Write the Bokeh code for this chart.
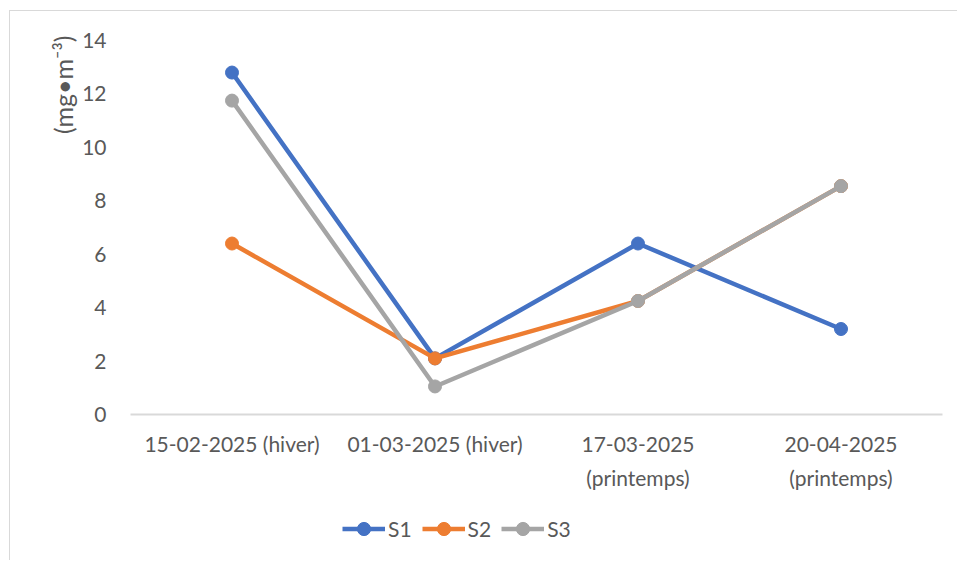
from bokeh.plotting import figure
from bokeh.layouts import column
from bokeh.models import Legend, LegendItem, Title, Range1d, FixedTicker, LinearAxis
from bokeh.embed import file_html
from bokeh.resources import INLINE

categories = ["15-02-2025 (hiver)", "01-03-2025 (hiver)", "17-03-2025 (printemps)", "20-04-2025 (printemps)"]
label_line1 = ["15-02-2025 (hiver)", "01-03-2025 (hiver)", "17-03-2025", "20-04-2025"]
label_line2 = ["", "", "(printemps)", "(printemps)"]
s1 = [12.8, 2.1, 6.4, 3.2]
s2 = [6.4, 2.1, 4.25, 8.55]
s3 = [11.75, 1.05, 4.25, 8.55]
series_names = ["S1", "S2", "S3"]
colors = ["#4472C4", "#ED7D31", "#A5A5A5"]
y_ticks = [0, 2, 4, 6, 8, 10, 12, 14]
y_title = "(mg\u2022m\u207b\u00b3)"

FONT = "Lato"
TXT = "#595959"
FS = "21px"

xpos = list(range(len(categories)))
series = [s1, s2, s3]

p = figure(x_range=Range1d(-0.5, len(categories) - 0.5), y_range=Range1d(0, 14),
           width=947, height=491, output_backend="svg", toolbar_location=None,
           x_axis_location=None,
           min_border_left=120, min_border_right=15, min_border_top=29, min_border_bottom=88)
p.outline_line_color = None
p.xgrid.grid_line_color = None
p.ygrid.grid_line_color = None

for name, vals, c in zip(series_names, series, colors):
    p.line(xpos, vals, line_color=c, line_width=4.5)
    p.scatter(xpos, vals, size=13, fill_color=c, line_color=c)

# x axis (first line of labels)
xa = LinearAxis(ticker=FixedTicker(ticks=xpos),
                major_label_overrides={i: t for i, t in zip(xpos, label_line1)},
                axis_line_color="#d9d9d9", axis_line_width=2,
                major_tick_line_color=None, minor_tick_line_color=None,
                major_label_text_font=FONT, major_label_text_font_size=FS,
                major_label_text_color=TXT, major_label_standoff=10)
p.add_layout(xa, "below")

# second line of labels
xa2 = LinearAxis(ticker=FixedTicker(ticks=xpos),
                 major_label_overrides={i: t for i, t in zip(xpos, label_line2)},
                 axis_line_color=None, major_tick_line_color=None, minor_tick_line_color=None,
                 major_label_text_font=FONT, major_label_text_font_size=FS,
                 major_label_text_color=TXT, major_label_standoff=0)
p.add_layout(xa2, "below")

# y axis
ya = p.yaxis[0]
ya.ticker = FixedTicker(ticks=y_ticks)
ya.axis_line_color = None
ya.major_tick_line_color = None
ya.minor_tick_line_color = None
ya.major_label_text_font = FONT
ya.major_label_text_font_size = FS
ya.major_label_text_color = TXT
ya.major_label_standoff = 18

p.add_layout(Title(text=y_title, align="right", standoff=4, offset=-5, text_font=FONT,
                   text_font_size="25px", text_color=TXT, text_font_style="normal"), "left")

# legend strip below the chart (its renderers use a y range far from the data, so they stay hidden)
p2 = figure(x_range=Range1d(-0.5, len(categories) - 0.5), y_range=Range1d(100, 101), width=947, height=58,
            output_backend="svg", toolbar_location=None,
            x_axis_location=None, y_axis_location=None,
            min_border_left=0, min_border_right=0, min_border_top=0, min_border_bottom=0)
p2.outline_line_color = None
p2.xgrid.grid_line_color = None
p2.ygrid.grid_line_color = None
items = []
for name, vals, c in zip(series_names, series, colors):
    l = p2.line(xpos, vals, line_color=c, line_width=4.5)
    m = p2.scatter(xpos, vals, size=13, fill_color=c, line_color=c)
    items.append(LegendItem(label=name, renderers=[l, m]))
legend = Legend(items=items, orientation="horizontal", location=(212, 15),
                border_line_color=None, background_fill_alpha=0,
                label_text_font=FONT, label_text_font_size=FS, label_text_color=TXT,
                glyph_width=43, glyph_height=33, spacing=10, label_standoff=3, padding=0, margin=0)
p2.add_layout(legend, "center")

layout = column(p, p2, spacing=0)
layout.styles = {"border-top": "1px solid #d9d9d9", "border-left": "1px solid #d9d9d9",
                 "margin-left": "9px", "margin-top": "10px"}

open("out.html", "w").write(file_html(layout, INLINE))
